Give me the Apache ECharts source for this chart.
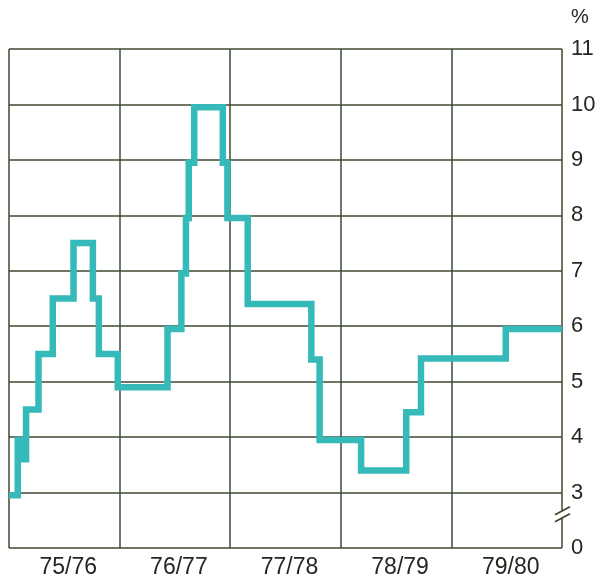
<!DOCTYPE html>
<html>
<head>
<meta charset="utf-8">
<script src="https://cdn.jsdelivr.net/npm/echarts@6/dist/echarts.min.js"></script>
<style>
  html, body { margin: 0; padding: 0; background: #fff; }
  #chart { width: 600px; height: 587px; }
</style>
</head>
<body>
<div id="chart"></div>
<script>
// months counted from the start of 75/76, value is where the step changes to
const stepMonths = [0, 0.95, 1.4, 1.85, 3.2, 4.75, 7.0, 9.1, 9.75, 11.8, 17.2, 18.7, 19.2, 19.5, 20.1,
  23.2, 23.7, 25.9, 32.8, 33.7, 38.2, 43.1, 44.7, 53.9, 60];
const stepValues = [2.95, 3.95, 3.6, 4.5, 5.5, 6.5, 7.5, 6.5, 5.5, 4.9, 5.95, 6.95, 7.95, 8.95, 9.95,
  8.95, 7.95, 6.4, 5.4, 3.95, 3.4, 4.45, 5.42, 5.95, 5.95];
const yearLabels = ["75/76", "76/77", "77/78", "78/79", "79/80"];
// axis value 2 stands for the broken-off 0
const breakValue = 2;

const gridColor = "#3c4a30";
const textColor = "#232821";
const lineColor = "#36b9b9";

const myChart = echarts.init(document.getElementById("chart"));

const option = {
  animation: false,
  backgroundColor: "#fff",
  textStyle: { fontFamily: "Liberation Sans, Arial, sans-serif" },
  grid: { left: 9, right: 38, top: 49, bottom: 39 },
  xAxis: [
    {
      type: "value",
      min: 0,
      max: 60,
      interval: 12,
      axisLine: { show: false },
      axisTick: { show: false },
      axisLabel: { show: false },
      splitLine: { show: true, lineStyle: { color: gridColor, width: 1.5 } },
    },
    {
      type: "category",
      position: "bottom",
      data: yearLabels,
      boundaryGap: true,
      axisLine: { show: false },
      axisTick: { show: false },
      splitLine: { show: false },
      axisLabel: {
        color: textColor,
        fontSize: 23,
        margin: 8,
        padding: [0, 0, 0, 8],
      },
    },
  ],
  yAxis: {
    type: "value",
    position: "right",
    min: 2,
    max: 11,
    interval: 1,
    axisLine: { show: false },
    axisTick: { show: false },
    splitLine: { show: true, lineStyle: { color: gridColor, width: 1.5 } },
    axisLabel: {
      color: textColor,
      fontSize: 22,
      margin: 9,
      formatter: (v) => (v === breakValue ? "0" : String(v)),
    },
  },
  series: [
    {
      type: "line",
      xAxisIndex: 0,
      step: "end",
      showSymbol: false,
      lineStyle: { color: lineColor, width: 6.5, join: "miter", cap: "butt" },
      data: stepMonths.map((m, i) => [m, stepValues[i]]),
    },
  ],
};
myChart.setOption(option);

// "%" over the axis and the break sign on the right border
const p = myChart.convertToPixel({ gridIndex: 0 }, [60, 2.6]);
myChart.setOption({
  graphic: [
    {
      type: "text",
      x: p[0] + 9,
      y: 7,
      style: { text: "%", fill: textColor, font: "20px Liberation Sans, Arial, sans-serif" },
    },
    {
      type: "rect",
      shape: { x: p[0] - 2, y: p[1] - 4, width: 4, height: 7 },
      style: { fill: "#fff" },
    },
    {
      type: "line",
      shape: { x1: p[0] - 7, y1: p[1] + 0, x2: p[0] + 8, y2: p[1] - 8 },
      style: { stroke: gridColor, lineWidth: 1.8 },
    },
    {
      type: "line",
      shape: { x1: p[0] - 7, y1: p[1] + 7, x2: p[0] + 8, y2: p[1] - 1 },
      style: { stroke: gridColor, lineWidth: 1.8 },
    },
  ],
});
</script>
</body>
</html>
